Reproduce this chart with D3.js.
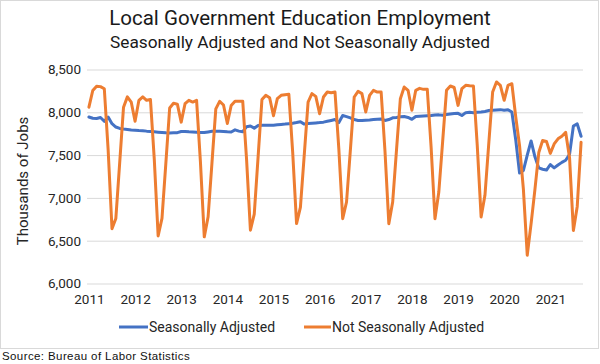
<!DOCTYPE html>
<html><head><meta charset="utf-8">
<script src="https://cdn.jsdelivr.net/npm/d3@7"></script>
<style>body{margin:0;background:#fff} svg{display:block}</style>
</head><body>
<svg id="c" width="600" height="364"></svg>
<script>
const titleText = "Local Government Education Employment";
const subtitleText = "Seasonally Adjusted and Not Seasonally Adjusted";
const yAxisTitle = "Thousands of Jobs";
const sourceText = "Source: Bureau of Labor Statistics";
const startYear = 2011;
const yearLabels = ["2011","2012","2013","2014","2015","2016","2017","2018","2019","2020","2021"];
const yTicks = [6000, 6500, 7000, 7500, 8000, 8500];
const seriesNames = ["Seasonally Adjusted", "Not Seasonally Adjusted"];
const seriesColors = ["#4472C4", "#ED7D31"];

// Monthly values, Jan 2011 - Sep 2021 (thousands)
const saValues = [
  7945,7930,7928,7940,7895,7945,7867,7828,7812,7805,7800,7793,
  7790,7787,7785,7780,7776,7772,7768,7764,7760,7758,7760,7762,
  7775,7776,7772,7770,7768,7765,7763,7770,7778,7778,7779,7777,
  7772,7770,7795,7780,7773,7832,7840,7815,7845,7848,7848,7850,
  7850,7855,7858,7862,7867,7872,7880,7890,7862,7868,7872,7876,
  7880,7885,7895,7905,7915,7880,7962,7950,7935,7915,7905,7905,
  7908,7910,7915,7920,7922,7905,7915,7935,7940,7948,7950,7940,
  7918,7950,7955,7958,7960,7962,7968,7970,7965,7975,7980,7985,
  7988,7962,7996,8000,7995,8000,8004,8010,8020,8023,8027,8031,
  8023,8030,8003,7680,7290,7320,7500,7665,7480,7350,7335,7325,
  7390,7350,7385,7415,7440,7510,7840,7865,7720
];
const nsaValues = [
  8060,8255,8305,8300,8275,7560,6640,6760,7410,8060,8180,8120,
  7895,8140,8180,8140,8150,7450,6555,6760,7400,8050,8105,8095,
  7885,8100,8140,8120,8140,7420,6545,6780,7410,8040,8128,8085,
  7870,8080,8130,8130,8130,7450,6622,6810,7480,8150,8198,8170,
  7960,8160,8198,8206,8210,7530,6700,6890,7500,8120,8218,8186,
  7984,8179,8237,8229,8237,7570,6757,6952,7560,8179,8245,8218,
  8004,8198,8257,8237,8237,7545,6699,6952,7560,8159,8295,8257,
  8023,8257,8280,8268,8268,7590,6757,7069,7660,8257,8307,8290,
  8081,8276,8315,8310,8307,7610,6777,7030,7640,8237,8354,8315,
  8140,8315,8334,7950,7610,7100,6330,6700,7100,7530,7670,7660,
  7520,7630,7690,7720,7765,7470,6620,6900,7650
];

const svg = d3.select("#c");
const FONT = "Roboto, 'Noto Sans', sans-serif";
const W = 600, H = 364;

// chart border
svg.append("rect").attr("x",0.5).attr("y",0.5).attr("width",W-2).attr("height",348)
  .attr("fill","#fff").attr("stroke","#D9D9D9").attr("stroke-width",1);

const plot = {left: 87, right: 583, top: 69.5, bottom: 283.5};
const idx = d3.range(saValues.length);
const x = d3.scalePoint().domain(idx).range([plot.left, plot.right]).padding(0.5);
const y = d3.scaleLinear().domain([6000, 8500]).range([plot.bottom, plot.top]);

function fit(sel, target) {
  const w = sel.node().getComputedTextLength();
  const fs = parseFloat(sel.attr("font-size"));
  sel.attr("font-size", fs * target / w);
}

// titles
const t1 = svg.append("text").attr("x",300).attr("y",25).attr("text-anchor","middle")
  .attr("font-family",FONT).attr("font-size",17).attr("fill","#1a1a1a").text(titleText);
fit(t1, 382);
const t2 = svg.append("text").attr("x",300).attr("y",48).attr("text-anchor","middle")
  .attr("font-family",FONT).attr("font-size",14).attr("fill","#1a1a1a").text(subtitleText);
fit(t2, 380);

// gridlines + y axis
const yAxis = d3.axisLeft(y).tickValues(yTicks).tickSize(-(plot.right-plot.left))
  .tickPadding(6).tickFormat(d3.format(","));
const gy = svg.append("g").attr("transform",`translate(${plot.left},0)`).call(yAxis);
gy.select(".domain").remove();
gy.selectAll(".tick line").attr("stroke","#D9D9D9").attr("stroke-width",1);
gy.selectAll(".tick text").attr("font-family",FONT).attr("font-size",13.5).attr("fill","#262626");

// x axis labels (January of each year)
const xAxis = d3.axisBottom(x).tickValues(yearLabels.map((d,i)=>i*12))
  .tickFormat(d => yearLabels[d/12]).tickSize(0).tickPadding(11);
const gx = svg.append("g").attr("transform",`translate(0,${plot.bottom})`).call(xAxis);
gx.select(".domain").remove();
gx.selectAll(".tick text").attr("font-family",FONT).attr("font-size",13.5).attr("fill","#262626");

// y axis title
svg.append("text").attr("transform","translate(28,181) rotate(-90)").attr("text-anchor","middle")
  .attr("font-family",FONT).attr("font-size",15).attr("fill","#262626").text(yAxisTitle);

// lines
const line = d3.line().x((d,i)=>x(i)).y(d=>y(d));
[saValues, nsaValues].forEach((vals, k) => {
  svg.append("path").datum(vals).attr("d", line).attr("fill","none")
    .attr("stroke", seriesColors[k]).attr("stroke-width",3)
    .attr("stroke-linejoin","round").attr("stroke-linecap","round");
});

// legend
const legendItems = [{x1:119, x2:148}, {x1:304, x2:331}];
legendItems.forEach((p,k) => {
  svg.append("line").attr("x1",p.x1).attr("x2",p.x2).attr("y1",327).attr("y2",327)
    .attr("stroke",seriesColors[k]).attr("stroke-width",3);
  svg.append("text").attr("x",p.x2+1).attr("y",332).attr("font-family",FONT)
    .attr("font-size",14).attr("fill","#262626").text(seriesNames[k]);
});

// source
svg.append("text").attr("x",2).attr("y",360).attr("font-family","'Liberation Sans', Arial, sans-serif")
  .attr("font-size",11.5).attr("letter-spacing",0.4).attr("fill","#111").text(sourceText);
</script>
</body></html>
